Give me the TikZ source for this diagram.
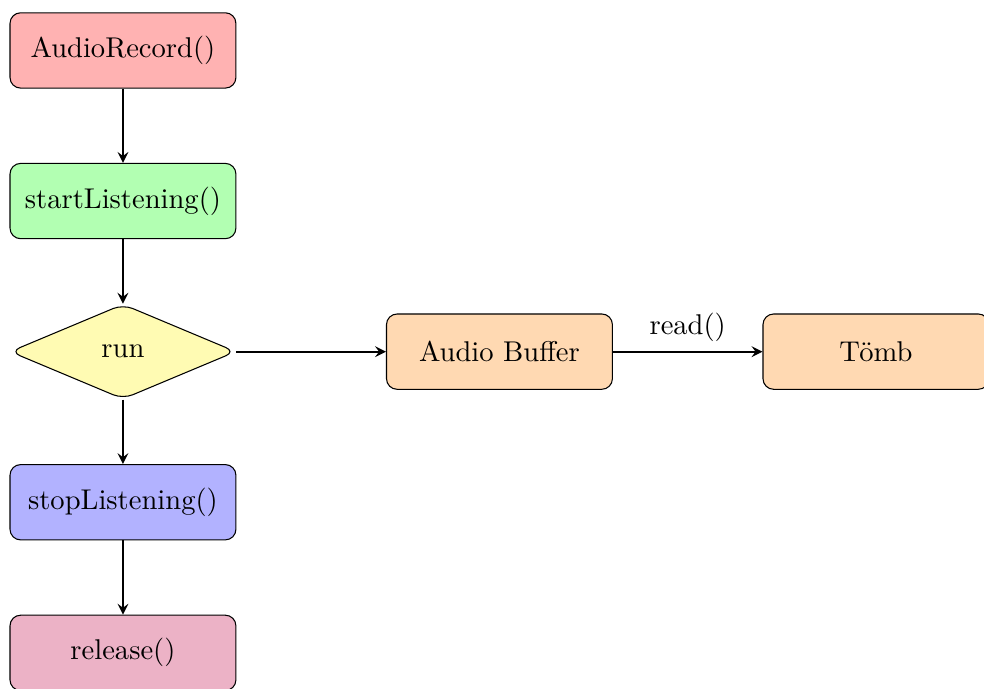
\documentclass[tikz,border=0pt]{standalone}
\usetikzlibrary{shapes.geometric,arrows.meta}
\begin{document}
\begin{tikzpicture}[
  font=\fontsize{10.8}{12.5}\selectfont,
  box/.style={draw, rounded corners, minimum width=3cm, minimum height=1cm, align=center},
  dec/.style={draw, diamond, rounded corners, minimum width=3cm, minimum height=1.26cm, inner sep=1pt, fill=yellow!30},
  arr/.style={thick, -stealth}
]
\useasboundingbox (-1.633,0.67) rectangle (11.435,-8.467);
\node[box, fill=red!30] (rec) at (0,0) {AudioRecord()};
\node[box, fill=green!30] (start) at (0,-2) {startListening()};
\node[dec] (run) at (0,-4) {run};
\node[box, fill=blue!30] (stop) at (0,-6) {stopListening()};
\node[box, fill=purple!30] (rel) at (0,-8) {release()};
\node[box, fill=orange!30] (buf) at (5,-4) {Audio Buffer};
\node[box, fill=orange!30] (tomb) at (10,-4) {Tömb};
\draw[arr] (rec) -- (start);
\draw[arr] (start) -- (run);
\draw[arr] (run) -- (stop);
\draw[arr] (stop) -- (rel);
\draw[arr] (run) -- (buf);
\draw[arr] (buf) -- node[above] {read()} (tomb);
\end{tikzpicture}
\end{document}
